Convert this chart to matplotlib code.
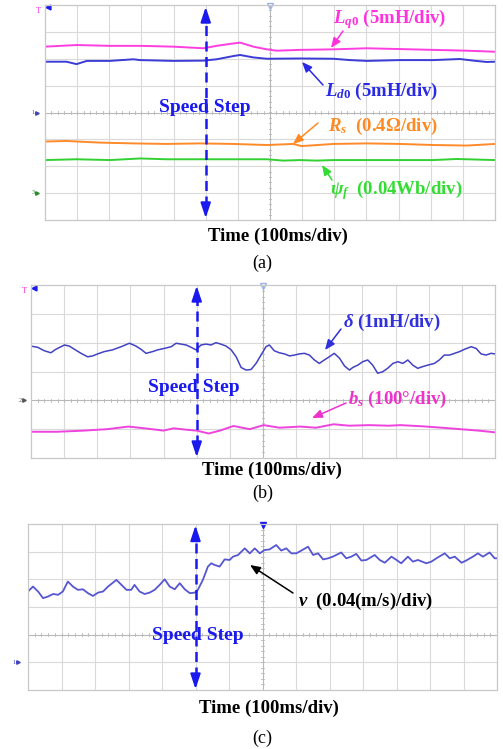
import numpy as np
import matplotlib
matplotlib.use("Agg")
import matplotlib.pyplot as plt

plt.rcParams['font.family'] = ['Liberation Serif', 'DejaVu Serif']
plt.rcParams['mathtext.fontset'] = 'custom'
plt.rcParams['mathtext.rm'] = 'Liberation Serif:bold'
plt.rcParams['mathtext.it'] = 'Liberation Serif:italic:bold'
plt.rcParams['mathtext.bf'] = 'Liberation Serif:bold'

W, H = 503, 749

# ---------------- data (screen divisions; x: 0..14, y: relative to centre line) -------------
# Panel (a)
lq0_x = [0, 0.98, 2.02, 2.96, 3.99, 4.93, 5.34, 5.86, 6.07, 6.48, 6.90, 7.21, 7.93, 8.97, 10.01, 11.04, 12.08, 13.12, 14.0]
lq0_y = [2.45, 2.51, 2.48, 2.48, 2.45, 2.39, 2.48, 2.57, 2.60, 2.45, 2.35, 2.30, 2.33, 2.35, 2.39, 2.36, 2.33, 2.30, 2.26]

ld0_x = [0, 0.67, 0.98, 1.30, 2.02, 2.75, 2.96, 3.99, 4.93, 5.34, 5.86, 6.07, 6.48, 6.90, 7.93, 8.97, 9.49, 10.01, 11.04, 12.08, 12.91, 13.33, 13.74, 14.0]
ld0_y = [1.89, 1.89, 1.80, 1.92, 1.92, 1.98, 1.95, 1.92, 1.93, 1.98, 2.10, 2.14, 2.05, 2.00, 2.01, 2.00, 1.95, 1.92, 1.95, 1.95, 1.99, 1.93, 1.88, 1.89]

rs_x = [0, 0.67, 1.71, 2.75, 3.78, 4.82, 5.86, 6.90, 7.72, 7.98, 8.97, 10.01, 11.04, 12.08, 13.12, 14.0]
rs_y = [-1.08, -1.06, -1.12, -1.15, -1.17, -1.15, -1.17, -1.21, -1.17, -1.25, -1.17, -1.15, -1.17, -1.21, -1.23, -1.17]

psi_x = [0, 0.98, 2.02, 2.96, 3.78, 4.82, 5.86, 6.90, 7.41, 7.93, 8.45, 8.97, 10.01, 11.04, 12.08, 12.81, 14.0]
psi_y = [-1.77, -1.74, -1.77, -1.71, -1.74, -1.74, -1.74, -1.74, -1.79, -1.77, -1.79, -1.77, -1.77, -1.77, -1.77, -1.73, -1.77]

# Panel (b)
delta_x = [0.00, 0.20, 0.40, 0.60, 0.75, 1.01, 1.16, 1.31, 1.51, 1.71, 1.86, 2.01, 2.21, 2.46, 2.72,
           2.97, 3.17, 3.32, 3.47, 3.67, 3.82, 4.02, 4.23, 4.38, 4.53, 4.68, 4.83, 4.98, 5.13, 5.28,
           5.43, 5.58, 5.73, 5.89, 6.04, 6.19, 6.34, 6.49, 6.64, 6.79, 6.94, 7.09, 7.19, 7.34, 7.49,
           7.65, 7.80, 7.95, 8.10, 8.25, 8.40, 8.55, 8.70, 8.85, 9.00, 9.15, 9.31, 9.46, 9.61, 9.71,
           9.86, 10.01, 10.16, 10.31, 10.46, 10.61, 10.76, 10.92, 11.07, 11.22, 11.37, 11.52, 11.67,
           11.82, 11.97, 12.17, 12.32, 12.47, 12.63, 12.78, 12.93, 13.08, 13.28, 13.43, 13.58, 13.73, 13.88, 14.0]
delta_y = [1.88, 1.84, 1.72, 1.65, 1.77, 1.92, 1.88, 1.77, 1.63, 1.51, 1.54, 1.61, 1.69, 1.75, 1.86,
           1.98, 1.88, 1.77, 1.63, 1.69, 1.75, 1.80, 1.86, 1.98, 1.95, 1.92, 1.84, 1.75, 1.92, 1.95,
           1.92, 2.00, 1.95, 1.88, 1.75, 1.51, 1.14, 1.05, 1.07, 1.28, 1.57, 1.86, 1.92, 1.72, 1.65,
           1.61, 1.54, 1.57, 1.61, 1.63, 1.57, 1.40, 1.28, 1.40, 1.51, 1.63, 1.46, 1.19, 1.05, 1.14,
           1.22, 1.34, 1.40, 1.22, 0.94, 0.99, 1.11, 1.28, 1.34, 1.28, 1.40, 1.22, 1.11,
           1.17, 1.22, 1.28, 1.40, 1.57, 1.57, 1.63, 1.69, 1.77, 1.86, 1.80, 1.61, 1.57, 1.63, 1.61]

bs_x = [0, 0.8, 1.6, 2.3, 2.94, 3.5, 4.0, 4.3, 4.7, 5.0, 5.36, 5.7, 6.11, 6.6, 7.02, 7.5, 8.12, 8.6, 9.13, 9.6,
        10.2, 10.8, 11.15, 11.8, 12.4, 13.06, 13.5, 14.0]
bs_y = [-1.09, -1.09, -1.05, -1.0, -0.91, -0.98, -1.05, -0.97, -1.02, -1.05, -1.15, -1.05, -0.89, -1.0, -0.86,
        -0.95, -0.91, -0.95, -0.83, -0.88, -0.86, -0.88, -0.86, -0.9, -0.95, -1.01, -1.05, -1.11]

# Panel (c)
v_x = [0.00, 0.15, 0.30, 0.45, 0.60, 0.75, 0.90, 1.04, 1.19, 1.34, 1.49, 1.64, 1.79, 1.94, 2.09, 2.24,
       2.39, 2.64, 2.79, 2.94, 3.08, 3.18, 3.33, 3.48, 3.63, 3.78, 3.93, 4.08, 4.23, 4.38, 4.53, 4.68,
       4.83, 4.98, 5.07, 5.22, 5.37, 5.47, 5.57, 5.72, 5.87, 6.02, 6.12, 6.27, 6.47, 6.62, 6.77, 6.92,
       7.06, 7.21, 7.41, 7.56, 7.71, 7.86, 8.01, 8.16, 8.36, 8.51, 8.66, 8.81, 8.96, 9.10, 9.35, 9.50,
       9.65, 9.80, 9.95, 10.10, 10.35, 10.50, 10.65, 10.85, 11.00, 11.14, 11.34, 11.49, 11.64, 11.89,
       12.04, 12.19, 12.44, 12.59, 12.74, 12.94, 13.08, 13.28, 13.43, 13.58, 13.78, 13.93, 14.0]
v_y = [1.56, 1.74, 1.56, 1.32, 1.38, 1.47, 1.44, 1.56, 1.92, 1.74, 1.62, 1.64, 1.50, 1.40, 1.52, 1.56,
       1.74, 1.98, 1.80, 1.62, 1.62, 1.80, 1.56, 1.47, 1.52, 1.62, 1.80, 2.00, 1.74, 1.64, 1.86, 1.64,
       1.50, 1.52, 1.62, 1.98, 2.46, 2.58, 2.52, 2.46, 2.72, 2.70, 2.82, 2.88, 3.12, 2.94, 3.12, 2.94,
       3.06, 3.08, 3.24, 3.04, 3.12, 2.94, 2.94, 3.04, 3.18, 2.88, 2.94, 2.72, 2.76, 2.82, 2.97, 2.76,
       2.82, 2.92, 2.68, 2.70, 2.88, 2.70, 2.60, 2.82, 2.70, 2.58, 2.82, 2.64, 2.70, 2.58,
       2.64, 2.76, 2.94, 2.76, 2.82, 2.60, 2.68, 2.82, 2.94, 2.82, 2.97, 2.76, 2.76]

step_x = 5.0

# ---------------- styling ----------------
BLUE = '#1a1aee'
GRID = '#dadada'
CENTER = '#b8b8b8'


def F(x, y):
    return (x / W, 1 - y / H)


def make_axes(x0, y0, x1, y1, ylo, yhi):
    ax = fig.add_axes([x0 / W, 1 - y1 / H, (x1 - x0) / W, (y1 - y0) / H])
    ax.set_xlim(0, 14)
    ax.set_ylim(ylo, yhi)
    ax.set_xticks([])
    ax.set_yticks([])
    for s in ax.spines.values():
        s.set_color('#c8c8c8')
        s.set_linewidth(0.9)
    for xv in range(1, 14):
        if xv != 7:
            ax.axvline(xv, color=GRID, lw=0.8, zorder=0)
    for yv in range(int(ylo) + 1, int(yhi)):
        if yv != 0:
            ax.axhline(yv, color=GRID, lw=0.8, zorder=0)
    ax.axvline(7, color=CENTER, lw=0.8, zorder=0)
    ax.axhline(0, color=CENTER, lw=0.8, zorder=0)
    # centre tick marks
    for xt in np.arange(0, 14.01, 0.2):
        ax.plot([xt, xt], [-0.05, 0.05], color=CENTER, lw=0.6, zorder=0)
    for yt in np.arange(ylo, yhi + 0.01, 0.2):
        ax.plot([6.96, 7.04], [yt, yt], color=CENTER, lw=0.6, zorder=0)
    return ax


def speed_step(ax, ylo, yhi, head):
    ax.plot([step_x, step_x], [ylo + head, yhi - head], color=BLUE, lw=1.8,
            dashes=(4, 2.2), zorder=3, solid_capstyle='butt')
    for tip, tail in ((yhi, yhi - head * 1.2), (ylo, ylo + head * 1.2)):
        ax.annotate('', xy=(step_x, tip), xytext=(step_x, tail),
                    arrowprops=dict(arrowstyle='-|>,head_length=0.9,head_width=0.3',
                                    color=BLUE, lw=1.5, shrinkA=0, shrinkB=0), zorder=4)


def label(ax, txt, x, y, color, tail, head, size=13.5):
    fig.text(*F(x, y), txt, color=color, fontsize=size, fontweight='bold',
             ha='left', va='center')
    ax.annotate('', xy=F(*head), xytext=F(*tail), xycoords='figure fraction',
                textcoords='figure fraction', annotation_clip=False,
                arrowprops=dict(arrowstyle='-|>,head_length=0.6,head_width=0.25',
                                color=color, lw=1.1, shrinkA=0, shrinkB=0))


fig = plt.figure(figsize=(W / 100, H / 100), dpi=100)

# ---------------- panel (a) ----------------
axa = make_axes(45, 5, 495, 220, -4, 4)
axa.plot(lq0_x, lq0_y, color='#ff3ee0', lw=1.4)
axa.plot(ld0_x, ld0_y, color='#3b3bd6', lw=1.4)
axa.plot(rs_x, rs_y, color='#ff8a2a', lw=1.4)
axa.plot(psi_x, psi_y, color='#33d033', lw=1.4)
speed_step(axa, -3.93, 3.93, 0.45)
fig.text(*F(205, 108), 'Speed Step', color=BLUE, fontsize=14, fontweight='bold', ha='center', va='center')
label(axa, r'$L_{q0}$ (5mH/div)', 333, 19, '#ff33dd', (343, 31), (331, 48))
label(axa, r'$L_{d0}$ (5mH/div)', 325, 91, '#2a2ae6', (323, 85), (302, 62))
label(axa, r'$R_s$  (0.4Ω/div)', 328, 126, '#ff8a22', (318, 123), (293, 144))
label(axa, r'$\psi_f$  (0.04Wb/div)', 330, 190, '#33dd33', (332, 180), (322, 165))
fig.text(*F(278, 236), 'Time (100ms/div)', fontsize=13.5, fontweight='bold', ha='center', va='center')
fig.text(*F(262, 263), '(a)', fontsize=13, ha='center', va='center')
# scope markers
fig.text(*F(38, 11), 'T', color='#ff33dd', fontsize=6, ha='center', va='center')
axa.plot([0.1], [3.93], marker='<', color=BLUE, ms=3.5, clip_on=False)
axa.plot([7], [3.95], marker='v', mfc='none', mec='#9fb2e6', ms=5, clip_on=False)
fig.text(*F(33, 112), '1', color='#4040c0', fontsize=4.5, ha='center', va='center')
axa.plot([-0.25], [0], marker='>', color='#4040c0', ms=2.5, clip_on=False)
fig.text(*F(33, 193), '3', color='#2a8a2a', fontsize=4.5, ha='center', va='center')
axa.plot([-0.25], [-3.0], marker='>', color='#2a8a2a', ms=2.5, clip_on=False)

# ---------------- panel (b) ----------------
axb = make_axes(31, 285, 495, 458, -2, 4)
axb.plot(delta_x, delta_y, color='#4242c4', lw=1.1)
axb.plot(bs_x, bs_y, color='#ee44dd', lw=1.4)
speed_step(axb, -1.97, 3.97, 0.42)
fig.text(*F(194, 387), 'Speed Step', color=BLUE, fontsize=14, fontweight='bold', ha='center', va='center')
label(axb, r'$\delta$ (1mH/div)', 343, 322, '#3030dd', (341, 329), (325, 350))
label(axb, r'$b_s$ (100°/div)', 348, 399, '#ee33cc', (346, 403), (312, 418))
fig.text(*F(272, 470), 'Time (100ms/div)', fontsize=13.5, fontweight='bold', ha='center', va='center')
fig.text(*F(263, 493), '(b)', fontsize=13, ha='center', va='center')
fig.text(*F(24, 291), 'T', color='#ff33dd', fontsize=6, ha='center', va='center')
axb.plot([0.1], [3.9], marker='<', color=BLUE, ms=3.5, clip_on=False)
axb.plot([7], [3.95], marker='v', mfc='none', mec='#9fb2e6', ms=5, clip_on=False)
fig.text(*F(20, 400), '2', color='#555555', fontsize=4.5, ha='center', va='center')
axb.plot([-0.2], [0], marker='>', color='#555555', ms=2.5, clip_on=False)

# ---------------- panel (c) ----------------
axc = make_axes(28, 524, 497, 690, -2, 4)
axc.plot(v_x, v_y, color='#5656d2', lw=1.3)
speed_step(axc, -1.97, 3.95, 0.45)
fig.text(*F(198, 635), 'Speed Step', color=BLUE, fontsize=14, fontweight='bold', ha='center', va='center')
label(axc, r'$v$  (0.04(m/s)/div)', 298, 601, 'black', (293, 593), (250, 565))
fig.text(*F(269, 708), 'Time (100ms/div)', fontsize=13.5, fontweight='bold', ha='center', va='center')
fig.text(*F(262, 738), '(c)', fontsize=13, ha='center', va='center')
axc.plot([7], [3.97], marker='v', color=BLUE, ms=5, clip_on=False)
fig.text(*F(14, 663), '1', color='#4040c0', fontsize=4.5, ha='center', va='center')
axc.plot([-0.3], [-1.0], marker='>', color='#4040c0', ms=2.5, clip_on=False)

fig.savefig('out.png', dpi=100)
